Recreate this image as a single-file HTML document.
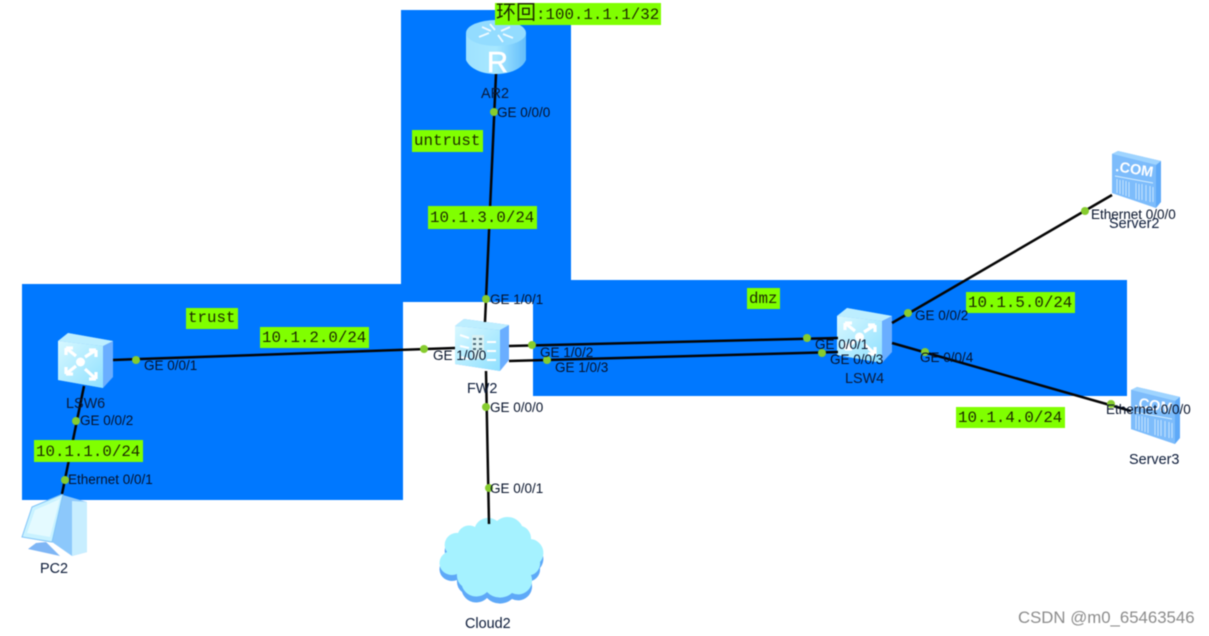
<!DOCTYPE html>
<html><head><meta charset="utf-8"><style>
html,body{margin:0;padding:0;background:#fff;width:1209px;height:636px;overflow:hidden}
svg{display:block;filter:blur(.4px)}
.p{font:13.5px "Liberation Sans",sans-serif;fill:#06122a}
.n{font:14.4px "Liberation Sans",sans-serif;fill:#0b1a38}
.g{font:15.8px "Liberation Mono","DejaVu Sans Mono",monospace;fill:#1c2a00}
</style></head><body>
<svg width="1209" height="636" viewBox="0 0 1209 636" xmlns="http://www.w3.org/2000/svg">
<defs>
<linearGradient id="f" x1="0" y1="0" x2="1" y2="1"><stop offset="0" stop-color="#d8f8ff"/><stop offset="1" stop-color="#8fe0ff"/></linearGradient>
<linearGradient id="r" x1="0" y1="0" x2="1" y2="0"><stop offset="0" stop-color="#9fe2ff"/><stop offset=".5" stop-color="#a8e8ff"/><stop offset="1" stop-color="#62bdfb"/></linearGradient>
<g id="sw">
<path d="M0 8 L10 0 L55 8 L55 44 L45 55 L0 47Z" fill="#6aaeff"/>
<path d="M0 8 L10 0 L55 8 L45 13Z" fill="#bdeeff"/>
<path d="M0 8 L45 13 L45 55 L0 47Z" fill="url(#f)"/>
<g stroke="#fff" stroke-width="3.200" fill="none">
<path d="M8 15 L18 23M8 15h7M8 15v7"/><path d="M38 17 L27 24M38 17h-7M38 17v7"/>
<path d="M8 41 L18 33M8 41h7M8 41v-7"/><path d="M38 46 L27 36M38 46h-7M38 46v-7"/>
</g><circle cx="22.500" cy="29" r="4.500" fill="#fff"/>
</g>
<g id="sv">
<path d="M0 2 L6 -1 L49 9 L49 50 L44 56 L0 41Z" fill="#5ea9f8"/>
<path d="M0 2 L6 -1 L49 9 L44 13Z" fill="#9fd4ff"/>
<path d="M0 2 L44 13 L44 56 L0 41Z" fill="#7dbcfb"/>
<text x="3" y="19" font-family="Liberation Sans,sans-serif" font-weight="bold" font-size="14.500" fill="#fff" transform="rotate(9 3 19)">.COM</text>
<path d="M3 24L41 31" stroke="#d5eeff"/>
<g stroke="#c4e4ff" stroke-width="1"><path d="M5 27v14M8 28v14M11 28v15M14 29v15M17 30v15M24 31v16M27 32v16M30 32v16M34 33v16M38 34v16M41 35v15"/></g>
</g>
</defs>

<rect x="22" y="284" width="381" height="216" fill="#0078ff"/>
<rect x="401" y="10" width="170" height="292" fill="#0078ff"/>
<rect x="533" y="280" width="594" height="116" fill="#0078ff"/>
<rect x="403" y="302" width="130" height="200" fill="#fff"/>

<!-- Cloud -->
<path d="M475 527 A14 14 0 0 1 497 521 A16 16 0 0 1 522 526 A13 13 0 0 1 531 539 A14 14 0 0 1 540 562 A12 12 0 0 1 531 575 A14 14 0 0 1 512 593 A18 18 0 0 1 487 592 A15 15 0 0 1 462 586 A14 14 0 0 1 457 574 A13 13 0 0 1 441 569 A12 12 0 0 1 447 552 A12 12 0 0 1 458 533 A12 12 0 0 1 475 527Z" fill="#5ea9f8" transform="translate(0 6)"/>
<path d="M475 527 A14 14 0 0 1 497 521 A16 16 0 0 1 522 526 A13 13 0 0 1 531 539 A14 14 0 0 1 540 562 A12 12 0 0 1 531 575 A14 14 0 0 1 512 593 A18 18 0 0 1 487 592 A15 15 0 0 1 462 586 A14 14 0 0 1 457 574 A13 13 0 0 1 441 569 A12 12 0 0 1 447 552 A12 12 0 0 1 458 533 A12 12 0 0 1 475 527Z" fill="#a5f2ff"/>

<!-- Router -->
<g>
<path d="M466 33 V60 C470 69 482 74 496 74 C510 74 522 69 526 60 V33Z" fill="url(#r)"/>
<ellipse cx="496" cy="33" rx="30" ry="13" fill="#93dcff"/>
<g stroke="#fff" stroke-width="1.800" fill="none" opacity=".85"><path d="M482 27l9 4M479 37l10-4M510 27l-9 4M513 38l-10-4M490 24l5 6M503 42l-5-7"/></g>
<text x="487" y="72" font-family="Liberation Sans,sans-serif" font-size="29" fill="#fff" stroke="#fff" stroke-width=".6">R</text>
</g>

<!-- PC -->
<g>
<path d="M63 495 L87 502 V552 L72 556 L52 542Z" fill="#8cc8fb"/>
<path d="M72 501 L87 502 V552 L72 556Z" fill="#c8eeff"/>
<path d="M32 507 L63 494 L52 542 L22 537Z" fill="#c9f2ff" stroke="#80c4f8"/>
<path d="M35 510 L60 499 L50 537 L27 533Z" fill="#e4faff"/>
<path d="M36 543 L46 542 L60 556 L28 549Z" fill="#7fb6f5"/>
</g>

<use href="#sw" x="58" y="333"/>
<use href="#sw" x="837" y="308"/>
<!-- FW -->
<g>
<path d="M455 326 L464 319 L509 325 L509 360 L500 371 L455 364Z" fill="#6aaeff"/>
<path d="M455 326 L464 319 L509 325 L500 330Z" fill="#bdeeff"/>
<path d="M455 326 L500 330 L500 371 L455 364Z" fill="url(#f)"/>
<g stroke="#fff" stroke-width="2"><path d="M460 335l9 3M460 346l9 2M460 357l9 2M487 342h9M487 351h9M487 360h9"/></g>
<rect x="472" y="335" width="12" height="24" fill="#d9f1f3"/>
<g fill="#4a6a78"><rect x="473" y="338" width="3" height="2"/><rect x="479" y="338" width="3" height="2"/><rect x="473" y="343" width="3" height="2"/><rect x="479" y="343" width="3" height="2"/><rect x="473" y="348" width="3" height="2"/><rect x="479" y="348" width="3" height="2"/></g>
</g>
<use href="#sv" x="1112" y="152"/>
<use href="#sv" x="1131" y="388"/>

<!-- Links -->
<g stroke="#050505" stroke-width="2.500" fill="none">
<path d="M496 74 L485 322"/>
<path d="M486 371 L489 524"/>
<path d="M113 360 L455 348"/>
<path d="M509 346 L838 338"/>
<path d="M509 361 L838 352"/>
<path d="M892 323 L1112 195"/>
<path d="M892 343 L1131 411"/>
<path d="M84 386 L62 494"/>
</g>

<g fill="#86cc2e">
<circle cx="494" cy="112" r="4"/><circle cx="486" cy="299" r="4"/><circle cx="424" cy="349" r="4"/>
<circle cx="532" cy="345" r="4"/><circle cx="547" cy="360" r="4"/><circle cx="486" cy="407" r="4"/>
<circle cx="489" cy="488" r="4"/><circle cx="807" cy="338" r="4"/><circle cx="822" cy="353" r="4"/>
<circle cx="908" cy="313" r="4"/><circle cx="925" cy="352" r="4"/><circle cx="1085" cy="211" r="4"/>
<circle cx="1111" cy="404" r="4"/><circle cx="136" cy="360" r="4"/><circle cx="76" cy="421" r="4"/>
<circle cx="65" cy="480" r="4"/>
</g>

<!-- Green labels -->
<g fill="#80ff00">
<rect x="495" y="3" width="166" height="22"/>
<rect x="412" y="130" width="71" height="22"/>
<rect x="428" y="206" width="109" height="23"/>
<rect x="186" y="308" width="52" height="21"/>
<rect x="260" y="327" width="109" height="21"/>
<rect x="747" y="288" width="33" height="21"/>
<rect x="966" y="292" width="109" height="21"/>
<rect x="956" y="407" width="109" height="21"/>
<rect x="34" y="440" width="109" height="22"/>
</g>
<text class="g" x="496" y="19"><tspan style="font-family:'Noto Sans CJK SC',sans-serif;font-size:20px">环回</tspan>:100.1.1.1/32</text>
<text class="g" x="414" y="145">untrust</text>
<text class="g" x="430" y="222">10.1.3.0/24</text>
<text class="g" x="188" y="322">trust</text>
<text class="g" x="262" y="342">10.1.2.0/24</text>
<text class="g" x="749" y="303">dmz</text>
<text class="g" x="968" y="307">10.1.5.0/24</text>
<text class="g" x="958" y="422">10.1.4.0/24</text>
<text class="g" x="36" y="456">10.1.1.0/24</text>

<!-- Port labels -->
<text class="p" x="497" y="117">GE 0/0/0</text>
<text class="p" x="490" y="304">GE 1/0/1</text>
<text class="p" x="433" y="360">GE 1/0/0</text>
<text class="p" x="540" y="357">GE 1/0/2</text>
<text class="p" x="555" y="372">GE 1/0/3</text>
<text class="p" x="490" y="412">GE 0/0/0</text>
<text class="p" x="490" y="493">GE 0/0/1</text>
<text class="p" x="815" y="349">GE 0/0/1</text>
<text class="p" x="830" y="364">GE 0/0/3</text>
<text class="p" x="915" y="320">GE 0/0/2</text>
<text class="p" x="920" y="362">GE 0/0/4</text>
<text class="p" x="1091" y="219">Ethernet 0/0/0</text>
<text class="p" x="1106" y="414">Ethernet 0/0/0</text>
<text class="p" x="144" y="370">GE 0/0/1</text>
<text class="p" x="80" y="425">GE 0/0/2</text>
<text class="p" x="68" y="484">Ethernet 0/0/1</text>

<!-- Node labels -->
<text class="n" x="481" y="98">AR2</text>
<text class="n" x="467" y="393">FW2</text>
<text class="n" x="845" y="383">LSW4</text>
<text class="n" x="66" y="408">LSW6</text>
<text class="n" x="1109" y="228">Server2</text>
<text class="n" x="1129" y="464">Server3</text>
<text class="n" x="40" y="573">PC2</text>
<text class="n" x="465" y="628">Cloud2</text>
<text x="1018" y="623" font-family="Liberation Sans,sans-serif" font-size="16.800" fill="#8c8c8c">CSDN @m0_65463546</text>
</svg>
</body></html>
